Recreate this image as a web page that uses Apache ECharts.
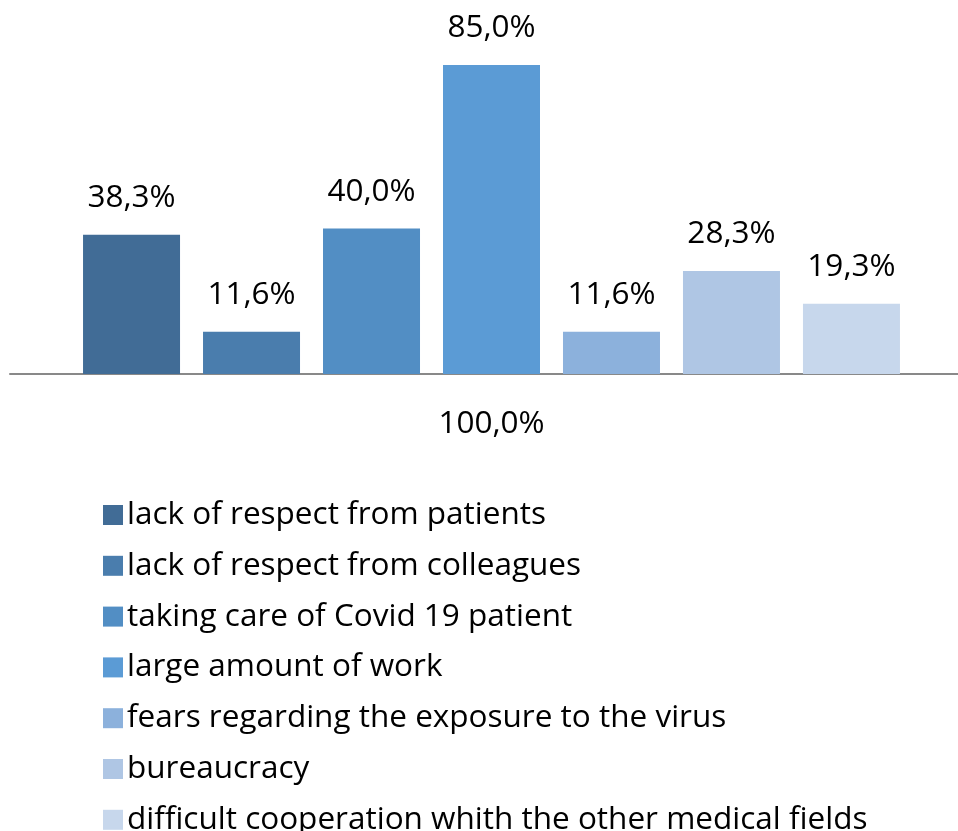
<!DOCTYPE html>
<html><head><meta charset="utf-8">
<script src="https://cdn.jsdelivr.net/npm/echarts@6/dist/echarts.min.js"></script>
<style>html,body{margin:0;padding:0;background:#fff;overflow:hidden}#c{width:973px;height:831px}</style>
</head><body><div id="c"></div>
<script>
const categories = ['100,0%'];
const seriesNames = [
  'lack of respect from patients',
  'lack of respect from colleagues',
  'taking care of Covid 19 patient',
  'large amount of work',
  'fears regarding the exposure to the virus',
  'bureaucracy',
  'difficult cooperation whith the other medical fields'
];
const seriesValues = [38.3, 11.6, 40.0, 85.0, 11.6, 28.3, 19.3];
const colors = ['#416C96','#4A7DAD','#528EC4','#5B9BD5','#8CB1DC','#AFC6E4','#C7D7EC'];
const FONT = 'Open Sans';

const chart = echarts.init(document.getElementById('c'), null, {renderer:'canvas'});
chart.setOption({
  animation:false,
  color: colors,
  textStyle:{fontFamily:FONT},
  grid:{left:10, right:0, top:65, height:309, containLabel:false},
  legend:{
    orient:'vertical', left:98, top:494, height:2000,
    itemWidth:20, itemHeight:20, itemGap:18.8,
    icon:'rect',
    textStyle:{fontFamily:FONT, fontSize:31.5, lineHeight:30, color:'#000', padding:[0,0,0,-1]},
    data: seriesNames
  },
  xAxis:{
    type:'category', data:categories,
    axisLine:{lineStyle:{color:'#898989', width:2}},
    axisTick:{show:false},
    axisLabel:{fontFamily:FONT, fontSize:31.5, color:'#000', margin:34}
  },
  yAxis:{type:'value', min:0, max:85, show:false, splitLine:{show:false}},
  series: seriesNames.map((n,i)=>({
    name:n, type:'bar', data:[seriesValues[i]],
    barWidth:97, barGap:'23.7%',
    label:{show:true, position:'top', distance:21, fontFamily:FONT, fontSize:31.5, color:'#000',
      formatter:p=>p.value.toFixed(1).replace('.', ',')+'%'}
  }))
});
</script></body></html>
